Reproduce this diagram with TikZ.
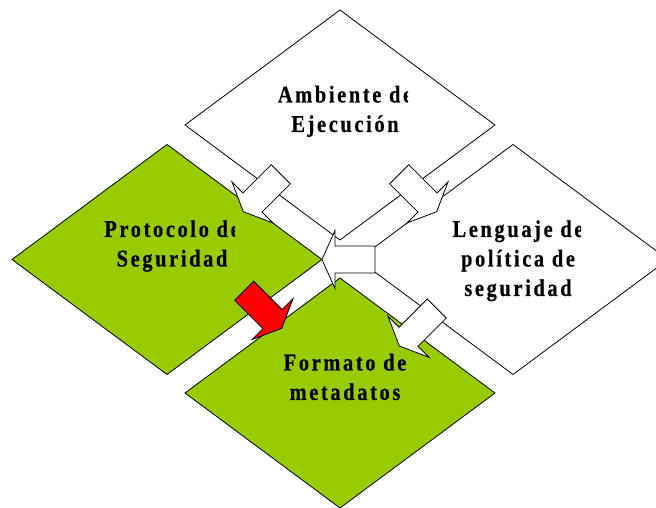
\documentclass[tikz,border=0pt]{standalone}
\usepackage{fontspec}
\setmainfont{Liberation Serif}
\newfontfamily\boxfont{Liberation Serif}[FakeStretch=0.85,LetterSpace=11,FakeBold=0.5]
\usetikzlibrary{shapes.geometric}

\definecolor{leafgreen}{RGB}{153,204,0}

\tikzset{
  pics/blockarrow/.style={code={
    \draw[pic actions] (-53,-13.5) -- (-13,-13.5) -- (-13,-29) -- (0,0)
      -- (-13,29) -- (-13,13.5) -- (-53,13.5) -- cycle;
  }}
}

\begin{document}
\begin{tikzpicture}[x=1pt,y=1pt,line width=0.8pt,
    area/.style={diamond,draw,minimum width=310pt,minimum height=230pt,
                 inner sep=0pt,outer sep=0pt},
    caption/.style={anchor=north,inner sep=0pt,align=center,
                    font=\boxfont\bfseries\fontsize{24}{29.5}\selectfont}]

  \useasboundingbox (0,0) rectangle (656,508);

  % the four areas
  \node[area,fill=white]     (amb)  at (340,383)   {};
  \node[area,fill=leafgreen] (prot) at (167,248.5) {};
  \node[area,fill=white]     (leng) at (513,248.5) {};
  \node[area,fill=leafgreen] (meta) at (340,115)   {};

  % arrow tips
  \coordinate (ulTip) at (243.3,296.3);
  \coordinate (urTip) at (436.7,296.3);
  \coordinate (lrTip) at (399.3,162);
  \coordinate (redTip) at (281.7,179.7);

  \pic[draw,fill=white,rotate=225] at (ulTip)     {blockarrow};
  \pic[draw,fill=white,rotate=-45] at (urTip)     {blockarrow};
  \pic[draw,fill=white,rotate=180] at (prot.east) {blockarrow};
  \pic[draw,fill=white,rotate=225] at (lrTip)     {blockarrow};
  \pic[draw,fill=red,rotate=-45]   at (redTip)    {blockarrow};

  % labels, cut off on the right like the original text boxes
  \begin{scope}
    \clip ([xshift=-160pt,yshift=-120pt]amb.center) rectangle ([xshift=68pt,yshift=120pt]amb.center);
    \node[caption] (ambText) at ([xshift=5pt,yshift=43.6pt]amb.center) {\strut Ambiente de\\Ejecución};
  \end{scope}
  \begin{scope}
    \clip ([xshift=-160pt,yshift=-120pt]prot.center) rectangle ([xshift=68pt,yshift=120pt]prot.center);
    \node[caption] (protText) at ([xshift=5pt,yshift=43.6pt]prot.center) {\strut Protocolo de\\Seguridad};
  \end{scope}
  \begin{scope}
    \clip ([xshift=-160pt,yshift=-120pt]leng.center) rectangle ([xshift=68pt,yshift=120pt]leng.center);
    \node[caption] (lengText) at ([xshift=5pt,yshift=43.6pt]leng.center) {\strut Lenguaje de\\política de\\seguridad};
  \end{scope}
  \begin{scope}
    \clip ([xshift=-160pt,yshift=-120pt]meta.center) rectangle ([xshift=68pt,yshift=120pt]meta.center);
    \node[caption] (metaText) at ([xshift=5pt,yshift=43.6pt]meta.center) {\strut Formato de\\metadatos};
  \end{scope}

\end{tikzpicture}
\end{document}
